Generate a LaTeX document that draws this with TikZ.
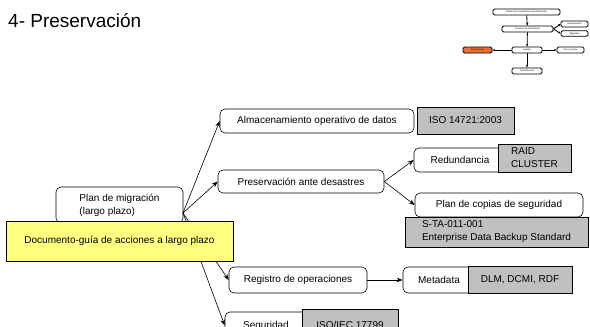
\documentclass[tikz,border=0pt]{standalone}
\usepackage{fontspec}
\setmainfont{Liberation Sans}
\usetikzlibrary{arrows.meta}
\definecolor{grayfill}{RGB}{192,192,192}
\definecolor{docyellow}{RGB}{255,255,128}
\definecolor{insetorange}{RGB}{240,110,50}
\tikzset{
  rbox/.style={draw, rounded corners=5pt, fill=white, line width=0.6pt, inner sep=1pt, font=\fontsize{10}{13}\selectfont},
  gbox/.style={draw, fill=grayfill, line width=0.6pt, inner sep=1pt, font=\fontsize{10}{13}\selectfont},
  ybox/.style={draw, fill=docyellow, line width=0.6pt, inner sep=1pt, font=\fontsize{10}{13}\selectfont},
  arr/.style={-{Stealth[length=6pt,width=4.5pt]}, line width=0.6pt},
  ibox/.style={draw, rounded corners=1.5pt, fill=white, line width=0.9pt, inner sep=0pt, font=\fontsize{2.3}{2.8}\selectfont},
  iarr/.style={-{Stealth[length=2.5pt,width=2.2pt]}, line width=0.8pt},
}
\begin{document}
\begin{tikzpicture}[x=1pt,y=-1pt]
\useasboundingbox (0,0) rectangle (590,327);

% title
\node[anchor=base west, inner sep=0pt, font=\fontsize{19}{22}\selectfont] (title) at (8,27) {4- Preservación};

% inset
\node[ibox, minimum width=67pt, minimum height=6pt] (idis) at (526.5,12) {Diseño de la arquitectura de información};
\node[ibox, minimum width=51pt, minimum height=6pt] (icre) at (527.5,29) {Creación de información};
\node[ibox, minimum width=27pt, minimum height=6pt] (irec) at (574.5,24) {Recuperación};
\node[ibox, minimum width=27pt, minimum height=5.5pt] (imig) at (574.5,33.5) {Migración};
\node[ibox, minimum width=29pt, minimum height=6pt, fill=insetorange] (iprs) at (477.5,50) {Preservación};
\node[ibox, minimum width=30pt, minimum height=6pt] (iges) at (527,50) {Gestión};
\node[ibox, minimum width=27pt, minimum height=6pt] (iuso) at (570.5,50) {Uso y acceso};
\node[ibox, minimum width=30pt, minimum height=6pt] (itra) at (527,71) {Transferencia};
\draw[iarr] (idis) -- (icre);
\draw[iarr] (icre) -- (iges);
\draw[iarr] (icre.east) -- (irec.west);
\draw[iarr] (icre.east) -- (imig.west);
\draw[iarr] (iges) -- (iprs);
\draw[iarr] (iges) -- (iuso);
\draw[iarr] (iges) -- (itra);

% main boxes
\node[rbox, minimum width=127pt, minimum height=36pt, align=left] (plan) at (119.5,205) {Plan de migración\\(largo plazo)};
\coordinate (po) at (183,213);

\node[rbox, minimum width=194pt, minimum height=24pt] (alm) at (317,121) {Almacenamiento operativo de datos};
\node[gbox, minimum width=97pt, minimum height=27pt] (iso) at (465.5,120.5) {ISO 14721:2003};

\node[rbox, minimum width=166pt, minimum height=23pt] (pres) at (301,181.5) {Preservación ante desastres};

\node[rbox, minimum width=92pt, minimum height=24pt] (red) at (460,160) {Redundancia};
\node[gbox, minimum width=73pt, minimum height=28pt, align=left] (raid) at (534.5,158) {RAID\\CLUSTER};

\node[rbox, minimum width=168pt, minimum height=24pt] (cop) at (499,205) {Plan de copias de seguridad};
\node[gbox, minimum width=183pt, minimum height=30pt, align=left] (sta) at (496.5,232) {S-TA-011-001\\Enterprise Data Backup Standard};

\node[rbox, minimum width=138pt, minimum height=26pt] (reg) at (298,280) {Registro de operaciones};
\node[rbox, minimum width=72pt, minimum height=26pt] (meta) at (439,280) {Metadata};
\node[gbox, minimum width=104pt, minimum height=27pt] (dlm) at (520,279.5) {DLM, DCMI, RDF};

\node[rbox, minimum width=82pt, minimum height=27pt] (seg) at (266,325.5) {Seguridad};
\node[gbox, minimum width=96pt, minimum height=32pt] (segiso) at (350,325) {ISO/IEC 17799};

% connectors
\draw[arr] (po) -- (alm.west);
\draw[arr] (po) -- (pres.west);
\draw[arr] (po) -- (reg.west);
\draw[arr] (po) -- (seg.west);
\draw[arr] (pres.east) -- (red.west);
\draw[arr] (pres.east) -- (cop.west);
\draw[arr] (reg.east) -- (meta.west);

% yellow document box on top
\node[ybox, minimum width=227pt, minimum height=40pt] (doc) at (119.5,241) {Documento-guía de acciones a largo plazo};
\end{tikzpicture}
\end{document}
